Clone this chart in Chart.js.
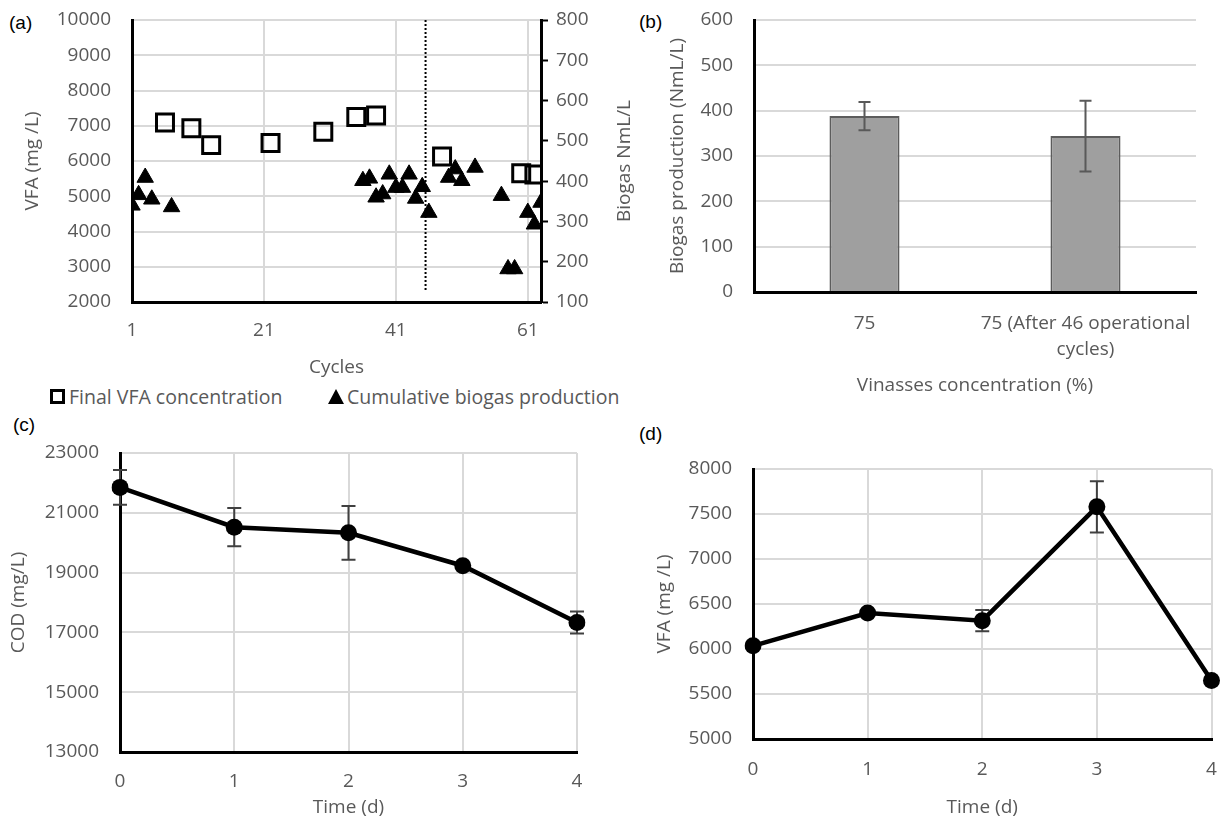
<!DOCTYPE html>
<html>
<head>
<meta charset="utf-8">
<script src="https://cdn.jsdelivr.net/npm/chart.js@4.4.1/dist/chart.umd.min.js"></script>
<style>
  html, body { margin: 0; padding: 0; background: #fff; }
  body { width: 1220px; height: 824px; position: relative; overflow: hidden; font-family: "Open Sans", Lato, sans-serif; }
  canvas { position: absolute; }
  .tag { position: absolute; font-family: "Liberation Sans", Arial, sans-serif; font-size: 19px; color: #000; }
  .leg { position: absolute; font-size: 19.5px; line-height: 22px; color: #595959; white-space: nowrap; }
  .sq { position: absolute; width: 15px; height: 15px; border: 3px solid #000; box-sizing: border-box; }
  .tri { position: absolute; width: 0; height: 0; border-left: 8.5px solid transparent; border-right: 8.5px solid transparent; border-bottom: 15px solid #000; }
</style>
</head>
<body>
<div class="tag" style="left:9px;top:12px">(a)</div>
<div class="tag" style="left:639px;top:11px">(b)</div>
<div class="tag" style="left:13px;top:414px">(c)</div>
<div class="tag" style="left:639px;top:423px">(d)</div>

<canvas id="chartA" width="645" height="380" style="left:0;top:0"></canvas>
<canvas id="chartB" width="575" height="410" style="left:645px;top:0"></canvas>
<canvas id="chartC" width="620" height="409" style="left:0;top:415px"></canvas>
<canvas id="chartD" width="580" height="409" style="left:640px;top:415px"></canvas>

<!-- legend of panel (a) -->
<div class="sq" style="left:50px;top:389px"></div>
<div class="leg" style="left:69px;top:386px">Final VFA concentration</div>
<div class="tri" style="left:328px;top:389px"></div>
<div class="leg" style="left:347px;top:386px">Cumulative biogas production</div>

<script>
// (a) operation over the cycles
var vfaCycles = [6, 10, 13, 22, 30, 35, 38, 48, 60, 62];
var vfaFinal = [7090, 6930, 6450, 6510, 6830, 7250, 7290, 6130, 5650, 5620];
var biogasCycles = [1, 2, 3, 4, 7, 36, 37, 38, 39, 40, 41, 42, 43, 44, 45, 46, 49, 50, 51, 53, 57, 58, 59, 61, 62, 63];
var biogasCum = [340, 366, 409, 355, 336, 401, 407, 360, 368, 417, 384, 384, 417, 357, 386, 322, 409, 430, 401, 434, 364, 182, 182, 322, 293, 347];
var cycleTicks = [1, 21, 41, 61];
var changeCycle = 45.5;

// (b) biogas production
var concLabels = ['75', ['75 (After 46 operational', 'cycles)']];
var biogasMean = [388, 344];
var biogasSd = [31, 78];

// (c) and (d) one cycle
var days = ['0', '1', '2', '3', '4'];
var cod = [21850, 20520, 20330, 19230, 17330];
var codSd = [580, 640, 900, 0, 370];
var vfa = [6035, 6400, 6315, 7580, 5650];
var vfaSd = [0, 0, 117, 285, 0];

Chart.defaults.font.family = '"Open Sans", Lato, sans-serif';
Chart.defaults.font.size = 19;
Chart.defaults.color = '#595959';
Chart.defaults.animation = false;
Chart.defaults.plugins.legend.display = false;
Chart.defaults.plugins.tooltip.enabled = false;

var gridGrey = '#d9d9d9';
var noColor = 'rgba(0,0,0,0)';
var axisLine = { color: '#000', width: 3 };
var plain = function(v) { return String(v); };

// invisible tick marks keep labels away from the axis without padding the chart area
function gridWithGap(gap) {
  return { color: gridGrey, lineWidth: 2, drawTicks: true, tickLength: gap, tickColor: noColor };
}

// error bars drawn through the y scale of each dataset
function drawErrorBars(chart) {
  var ctx = chart.ctx;
  chart.data.datasets.forEach(function(ds, i) {
    if (!ds.errors) return;
    var meta = chart.getDatasetMeta(i);
    var yScale = chart.scales[meta.yAxisID];
    ctx.save();
    ctx.strokeStyle = ds.errorColor || '#404040';
    ctx.lineWidth = 2;
    meta.data.forEach(function(el, j) {
      var e = ds.errors[j];
      if (!e) return;
      var top = yScale.getPixelForValue(ds.data[j] + e);
      var bot = yScale.getPixelForValue(ds.data[j] - e);
      var w = ds.capHalf || 7;
      ctx.beginPath();
      ctx.moveTo(el.x, top); ctx.lineTo(el.x, bot);
      ctx.moveTo(el.x - w, top); ctx.lineTo(el.x + w, top);
      ctx.moveTo(el.x - w, bot); ctx.lineTo(el.x + w, bot);
      ctx.stroke();
    });
    ctx.restore();
  });
}
var errorBars = {
  id: 'errorBars',
  beforeDatasetsDraw: function(chart) { if (chart.config.type === 'line') drawErrorBars(chart); },
  afterDatasetsDraw: function(chart) { if (chart.config.type !== 'line') drawErrorBars(chart); }
};

// right axis title of (a), reads upwards like the left one
var rightTitle = {
  id: 'rightTitle',
  afterDraw: function(chart) {
    var s = chart.scales.y2;
    var ctx = chart.ctx;
    ctx.save();
    ctx.translate(s.right - 20, (chart.chartArea.top + chart.chartArea.bottom) / 2);
    ctx.rotate(-Math.PI / 2);
    ctx.font = '19px "Open Sans", Lato, sans-serif';
    ctx.fillStyle = '#595959';
    ctx.textAlign = 'center';
    ctx.textBaseline = 'middle';
    ctx.fillText('Biogas NmL/L', 0, 0);
    ctx.restore();
  }
};

// (a)
new Chart(document.getElementById('chartA'), {
  type: 'scatter',
  data: {
    datasets: [{
      label: 'Final VFA concentration',
      data: vfaCycles.map(function(c, i) { return { x: c, y: vfaFinal[i] }; }),
      yAxisID: 'y',
      pointStyle: 'rect',
      pointRadius: 12,
      pointBorderWidth: 3,
      pointBorderColor: '#000',
      pointBackgroundColor: 'rgba(255,255,255,0)',
      order: 1
    }, {
      label: 'Cumulative biogas production',
      data: biogasCycles.map(function(c, i) { return { x: c, y: biogasCum[i] }; }),
      yAxisID: 'y2',
      pointStyle: 'triangle',
      pointRadius: 9.5,
      pointBorderWidth: 1,
      pointBorderColor: '#000',
      pointBackgroundColor: '#000',
      order: 0
    }, {
      label: 'change',
      type: 'line',
      data: [{ x: changeCycle, y: 10000 }, { x: changeCycle, y: 2300 }],
      yAxisID: 'y',
      showLine: true,
      borderColor: '#000',
      borderWidth: 2,
      borderDash: [2, 2],
      pointRadius: 0,
      order: 2
    }]
  },
  options: {
    responsive: false,
    layout: { padding: { top: 20, left: 0, right: 0, bottom: 0 } },
    scales: {
      x: {
        type: 'linear', min: 1, max: 63,
        afterBuildTicks: function(s) { s.ticks = cycleTicks.map(function(v) { return { value: v }; }); },
        grid: { color: gridGrey, lineWidth: 2, drawTicks: false },
        border: axisLine,
        ticks: { padding: 17, maxRotation: 0, autoSkip: false, callback: plain },
        title: { display: true, text: 'Cycles', padding: { top: 0, bottom: 1 } },
        afterFit: function(s) { s.height = 78; }
      },
      y: {
        position: 'left', min: 2000, max: 10000,
        ticks: { stepSize: 1000, padding: 0, callback: plain },
        grid: gridWithGap(21),
        border: axisLine,
        title: { display: true, text: 'VFA (mg /L)', padding: { top: 21, bottom: 0 } },
        afterFit: function(s) { s.width = 132; }
      },
      y2: {
        position: 'right', min: 100, max: 800,
        ticks: { stepSize: 100, padding: 8, callback: plain },
        grid: { drawOnChartArea: false, drawTicks: true, tickLength: 7, tickColor: '#000', tickWidth: 2 },
        border: axisLine,
        afterFit: function(s) { s.width = 104; }
      }
    }
  },
  plugins: [rightTitle]
});

// (b)
new Chart(document.getElementById('chartB'), {
  type: 'bar',
  data: {
    labels: concLabels,
    datasets: [{
      data: biogasMean,
      errors: biogasSd,
      errorColor: '#595959',
      capHalf: 6,
      backgroundColor: '#9f9f9f',
      borderColor: '#5c5c5c',
      borderWidth: 2,
      categoryPercentage: 1,
      barPercentage: 0.317
    }]
  },
  options: {
    responsive: false,
    layout: { padding: { top: 20, left: 0, right: 24, bottom: 0 } },
    scales: {
      x: {
        grid: { display: false },
        border: axisLine,
        ticks: { padding: 10, maxRotation: 0, autoSkip: false, font: { lineHeight: 1.4 } },
        title: { display: true, text: 'Vinasses concentration (%)', padding: { top: 0, bottom: 13 } },
        afterFit: function(s) { s.height = 118; }
      },
      y: {
        min: 0, max: 600,
        ticks: { stepSize: 100, padding: 0, callback: plain },
        grid: gridWithGap(21),
        border: axisLine,
        title: { display: true, text: 'Biogas production (NmL/L)', padding: { top: 21, bottom: 0 } },
        afterFit: function(s) { s.width = 109; }
      }
    }
  },
  plugins: [errorBars]
});

function timeChart(id, values, errors, yMin, yMax, step, yTitle, pad, yWidth, xHeight, yTitlePad, xTitlePad, xGap) {
  return new Chart(document.getElementById(id), {
    type: 'line',
    data: {
      labels: days,
      datasets: [{
        data: values,
        errors: errors,
        borderColor: '#000',
        borderWidth: 4.5,
        pointRadius: 8.5,
        pointBorderWidth: 0,
        pointBackgroundColor: '#000',
        pointBorderColor: '#000'
      }]
    },
    options: {
      responsive: false,
      layout: { padding: pad },
      scales: {
        x: {
          grid: gridWithGap(xGap),
          border: axisLine,
          ticks: { padding: 0, maxRotation: 0 },
          title: { display: true, text: 'Time (d)', padding: { top: 0, bottom: xTitlePad } },
          afterFit: function(s) { s.height = xHeight; }
        },
        y: {
          min: yMin, max: yMax,
          ticks: { stepSize: step, padding: 0, callback: plain },
          grid: gridWithGap(21),
          border: axisLine,
          title: { display: true, text: yTitle, padding: { top: yTitlePad, bottom: 0 } },
          afterFit: function(s) { s.width = yWidth; }
        }
      }
    },
    plugins: [errorBars]
  });
}

// (c)
timeChart('chartC', cod, codSd, 13000, 23000, 2000, 'COD (mg/L)',
  { top: 38, left: 0, right: 43, bottom: 0 }, 120, 72, 7, 5, 18);

// (d)
timeChart('chartD', vfa, vfaSd, 5000, 8000, 500, 'VFA (mg /L)',
  { top: 54, left: 0, right: 3, bottom: 0 }, 113, 85, 13, 5, 19);
</script>
</body>
</html>
